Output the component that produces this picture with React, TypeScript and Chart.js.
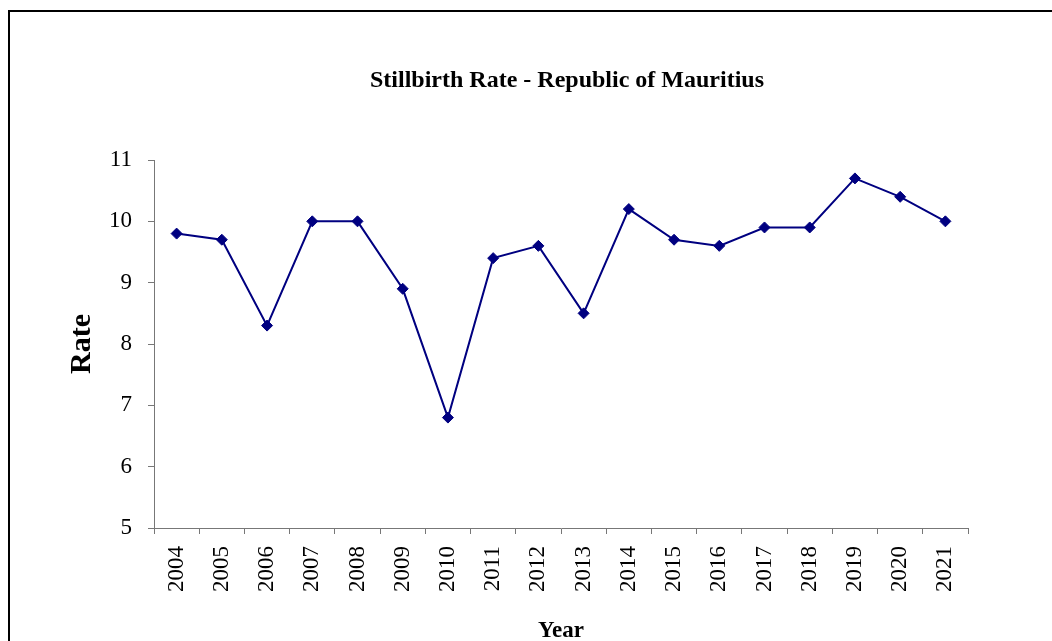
import React, { useEffect, useRef } from "react";
import { Chart, registerables } from "chart.js";

Chart.register(...registerables);

const years = ["2004","2005","2006","2007","2008","2009","2010","2011","2012","2013","2014","2015","2016","2017","2018","2019","2020","2021"];
const rates = [9.8, 9.7, 8.3, 10.0, 10.0, 8.9, 6.8, 9.4, 9.6, 8.5, 10.2, 9.7, 9.6, 9.9, 9.9, 10.7, 10.4, 10.0];
const chartTitle = "Stillbirth Rate - Republic of Mauritius";
const xTitle = "Year";
const yTitle = "Rate";
const yMin = 5;
const yMax = 11;

const SERIF = '"Liberation Serif", "Times New Roman", serif';
const LINE = "#000080";
const AXIS = "#777777";

const titlePlugin = {
  id: "customTitle",
  afterDraw(chart: any) {
    const { ctx, chartArea } = chart;
    ctx.save();
    ctx.font = `bold 24px ${SERIF}`;
    ctx.fillStyle = "#000";
    ctx.textAlign = "center";
    ctx.textBaseline = "middle";
    ctx.fillText(chartTitle, (chartArea.left + chartArea.right) / 2 + 6, 81);
    ctx.restore();
  },
};

export default function App() {
  const ref = useRef<HTMLCanvasElement | null>(null);
  useEffect(() => {
    if (!ref.current) return;
    const chart = new Chart(ref.current, {
      type: "line",
      data: {
        labels: years,
        datasets: [
          {
            data: rates,
            borderColor: LINE,
            backgroundColor: LINE,
            borderWidth: 2,
            pointStyle: "rectRot",
            pointRadius: 5.5,
            pointBorderWidth: 1,
            pointBackgroundColor: LINE,
            pointBorderColor: LINE,
            tension: 0,
            fill: false,
          },
        ],
      },
      options: {
        responsive: false,
        animation: false,
        layout: { padding: { top: 160, left: 0, right: 84, bottom: 0 } },
        plugins: { legend: { display: false }, title: { display: false }, tooltip: { enabled: false } },
        scales: {
          x: {
            type: "category",
            offset: true,
            grid: { offset: true, drawOnChartArea: false, drawTicks: true, tickLength: 6, color: AXIS, tickColor: AXIS },
            border: { display: true, color: AXIS, width: 1 },
            ticks: {
              autoSkip: false,
              minRotation: 90,
              maxRotation: 90,
              padding: 12,
              color: "#000",
              font: { family: SERIF, size: 23 },
            },
            title: {
              display: true,
              text: xTitle,
              color: "#000",
              font: { family: SERIF, size: 23, weight: "bold" },
              padding: { top: 0, bottom: -4 },
            },
            afterFit(scale: any) {
              scale.height = 113;
            },
          },
          y: {
            min: yMin,
            max: yMax,
            grid: { drawOnChartArea: false, drawTicks: true, tickLength: 6, color: AXIS, tickColor: AXIS },
            border: { display: true, color: AXIS, width: 1 },
            ticks: {
              stepSize: 1,
              padding: 16,
              color: "#000",
              font: { family: SERIF, size: 23 },
            },
            title: {
              display: true,
              text: yTitle,
              color: "#000",
              font: { family: SERIF, size: 30, weight: "bold" },
              padding: { top: 64, bottom: 0 },
            },
            afterFit(scale: any) {
              scale.width = 154;
            },
          },
        },
      },
      plugins: [titlePlugin],
    });
    return () => chart.destroy();
  }, []);

  return (
    <div style={{ position: "fixed", left: 0, top: 0, width: 1052, height: 641, background: "#fff", overflow: "hidden" }}>
      <canvas ref={ref} width={1052} height={641} style={{ position: "absolute", left: 0, top: 0, width: 1052, height: 641 }} />
      <div
        style={{
          position: "absolute",
          left: 8,
          top: 10,
          width: 1200,
          height: 800,
          borderLeft: "2px solid #000",
          borderTop: "2px solid #000",
          pointerEvents: "none",
        }}
      />
    </div>
  );
}
